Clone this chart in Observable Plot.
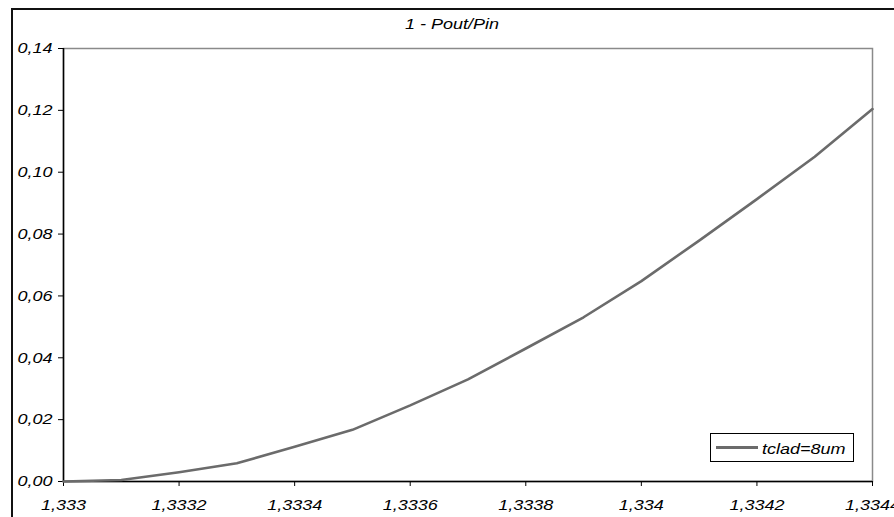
<!DOCTYPE html>
<html>
<head>
<meta charset="utf-8">
<script src="https://cdn.jsdelivr.net/npm/d3@7"></script>
<script src="https://cdn.jsdelivr.net/npm/@observablehq/plot@0.6"></script>
<style>
  html, body { margin: 0; padding: 0; background: #fff; }
  #wrap { position: relative; width: 894px; height: 517px; overflow: hidden; font-family: "Liberation Sans", Arial, sans-serif; }
  #border { position: absolute; left: 11px; top: 8px; width: 900px; height: 600px; border-left: 2px solid #111; border-top: 2px solid #111; box-sizing: border-box; }
  .lbl { position: absolute; font-style: italic; font-size: 15px; color: #000; white-space: nowrap; line-height: 1; }
  #title { left: 452px; top: 16px; transform: translateX(-50%) scaleX(1.2); }
  #legend { position: absolute; left: 710px; top: 433px; width: 144px; height: 29px; border: 1px solid #000; box-sizing: border-box; background: #fff; }
  #legline { position: absolute; left: 5px; top: 12px; width: 42px; height: 0; border-top: 3px solid #6b6b6b; }
  #legtext { left: 51px; top: 7px; transform-origin: left center; transform: scaleX(1.2); }
  svg { position: absolute; left: 0; top: 0; }
</style>
</head>
<body>
<div id="wrap"></div>
<script>
const titleText = "1 - Pout/Pin";
const seriesName = "tclad=8um";
const xValues = [1.3330, 1.3331, 1.3332, 1.3333, 1.3334, 1.3335, 1.3336, 1.3337, 1.3338, 1.3339, 1.3340, 1.3341, 1.3342, 1.3343, 1.3344];
const yValues = [0, 0.0005, 0.0030, 0.0059, 0.0112, 0.0167, 0.0246, 0.0330, 0.0430, 0.0531, 0.0648, 0.0779, 0.0913, 0.1050, 0.1204];
const xTicks = [1.3330, 1.3332, 1.3334, 1.3336, 1.3338, 1.3340, 1.3342, 1.3344];
const xTickLabels = ["1,333", "1,3332", "1,3334", "1,3336", "1,3338", "1,334", "1,3342", "1,3344"];
const yTicks = [0, 0.02, 0.04, 0.06, 0.08, 0.10, 0.12, 0.14];
const yTickLabels = ["0,00", "0,02", "0,04", "0,06", "0,08", "0,10", "0,12", "0,14"];

const data = xValues.map((x, i) => ({x, y: yValues[i]}));

const chart = Plot.plot({
  width: 894,
  height: 517,
  marginLeft: 63,
  marginRight: 22,
  marginTop: 48,
  marginBottom: 36,
  style: {fontFamily: "'Liberation Sans', Arial, sans-serif", fontSize: "15px", fontStyle: "italic", color: "#000", background: "transparent", overflow: "visible"},
  x: {domain: [1.3330, 1.3344]},
  y: {domain: [0, 0.14]},
  marks: [
    Plot.frame({stroke: "#8a8a8a", strokeWidth: 1.5}),
    Plot.axisX({ticks: xTicks, tickFormat: (d) => xTickLabels[xTicks.findIndex(t => Math.abs(t - d) < 1e-9)], tickSize: 5, tickPadding: 13, label: null, stroke: "#000"}),
    Plot.axisY({ticks: yTicks, tickFormat: (d) => yTickLabels[yTicks.findIndex(t => Math.abs(t - d) < 1e-9)], tickSize: 5, tickPadding: 6, label: null, stroke: "#000"}),
    Plot.ruleX([1.3330], {stroke: "#000", strokeWidth: 1.5}),
    Plot.ruleY([0], {stroke: "#000", strokeWidth: 1.5}),
    Plot.line(data, {x: "x", y: "y", stroke: "#6b6b6b", strokeWidth: 2.6})
  ]
});

const wrap = document.getElementById("wrap");
const border = document.createElement("div");
border.id = "border";
wrap.appendChild(border);
wrap.appendChild(chart);

const title = document.createElement("div");
title.id = "title"; title.className = "lbl"; title.textContent = titleText;
wrap.appendChild(title);

const legend = document.createElement("div");
legend.id = "legend";
const legline = document.createElement("div"); legline.id = "legline";
const legtext = document.createElement("div"); legtext.id = "legtext"; legtext.className = "lbl"; legtext.textContent = seriesName;
legend.appendChild(legline); legend.appendChild(legtext);
wrap.appendChild(legend);

// Reference text is horizontally stretched; widen tick labels around their anchor point
chart.querySelectorAll("text").forEach(t => {
  const tr = t.getAttribute("transform") || "";
  t.setAttribute("transform", (tr + " scale(1.2,1)").trim());
});
</script>
</body>
</html>
